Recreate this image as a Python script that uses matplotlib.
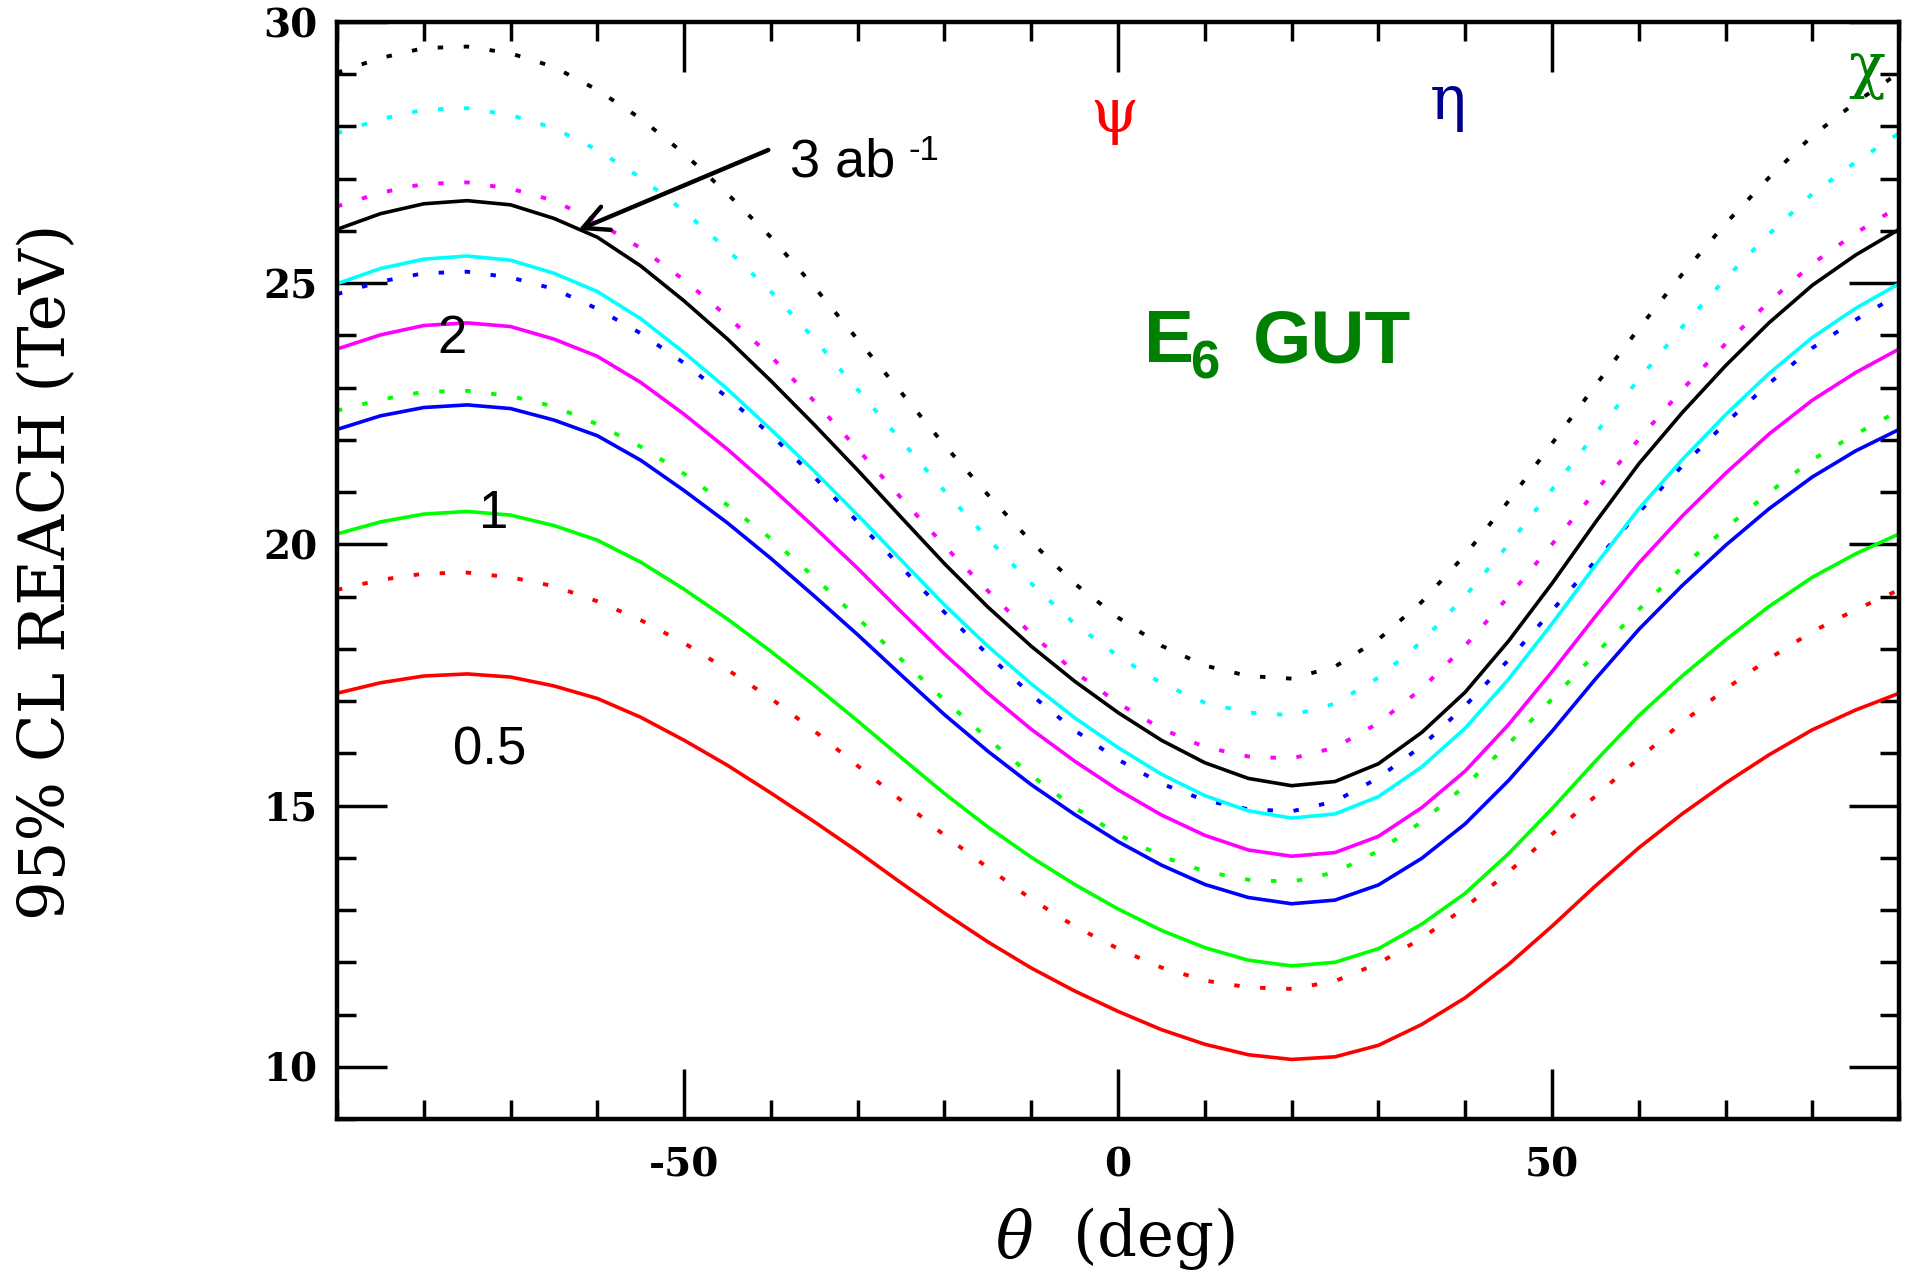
import matplotlib
matplotlib.use('Agg')
import matplotlib.pyplot as plt
from matplotlib.ticker import MultipleLocator

plt.rcParams['axes.unicode_minus'] = False
plt.rcParams['mathtext.fontset'] = 'dejavuserif'

# mixing angle grid (deg)
theta = [-90, -85, -80, -75, -70, -65, -60, -55, -50, -45, -40, -35, -30, -25, -20, -15, -10, -5, 0,
         5, 10, 15, 20, 25, 30, 35, 40, 45, 50, 55, 60, 65, 70, 75, 80, 85, 90]

# 95% CL reach (TeV), solid set
solid_black = [26.03, 26.33, 26.52, 26.58, 26.50, 26.24, 25.88, 25.33, 24.66, 23.93, 23.13, 22.29, 21.42,
               20.52, 19.63, 18.80, 18.05, 17.38, 16.78, 16.25, 15.82, 15.52, 15.38, 15.46, 15.80, 16.40,
               17.17, 18.15, 19.25, 20.42, 21.54, 22.52, 23.42, 24.24, 24.96, 25.54, 26.03]
solid_cyan = [24.99, 25.28, 25.46, 25.52, 25.44, 25.19, 24.84, 24.32, 23.67, 22.97, 22.20, 21.40, 20.56,
              19.70, 18.84, 18.05, 17.33, 16.68, 16.11, 15.60, 15.19, 14.90, 14.76, 14.84, 15.17, 15.74,
              16.48, 17.42, 18.48, 19.60, 20.68, 21.62, 22.48, 23.27, 23.96, 24.52, 24.99]
solid_magenta = [23.74, 24.01, 24.19, 24.24, 24.17, 23.93, 23.60, 23.10, 22.49, 21.82, 21.09, 20.33, 19.54,
                 18.71, 17.90, 17.15, 16.46, 15.85, 15.30, 14.82, 14.43, 14.15, 14.03, 14.10, 14.41, 14.96,
                 15.66, 16.55, 17.56, 18.62, 19.64, 20.54, 21.36, 22.11, 22.76, 23.29, 23.74]
solid_blue = [22.20, 22.46, 22.62, 22.67, 22.60, 22.38, 22.08, 21.61, 21.03, 20.41, 19.73, 19.01, 18.27,
              17.50, 16.74, 16.04, 15.40, 14.83, 14.31, 13.86, 13.49, 13.24, 13.12, 13.19, 13.48, 13.99,
              14.65, 15.48, 16.42, 17.42, 18.37, 19.21, 19.98, 20.68, 21.29, 21.79, 22.20]
solid_green = [20.20, 20.43, 20.58, 20.63, 20.56, 20.36, 20.08, 19.66, 19.14, 18.57, 17.95, 17.30, 16.62,
               15.92, 15.23, 14.59, 14.01, 13.49, 13.02, 12.61, 12.28, 12.04, 11.93, 12.00, 12.26, 12.73,
               13.32, 14.08, 14.94, 15.85, 16.72, 17.48, 18.17, 18.81, 19.37, 19.82, 20.20]
solid_red = [17.15, 17.35, 17.48, 17.52, 17.46, 17.29, 17.05, 16.69, 16.25, 15.77, 15.24, 14.69, 14.12,
             13.52, 12.94, 12.39, 11.89, 11.45, 11.06, 10.71, 10.43, 10.23, 10.14, 10.19, 10.41, 10.81,
             11.32, 11.96, 12.69, 13.46, 14.19, 14.84, 15.43, 15.97, 16.45, 16.83, 17.15]

# dotted set
dot_black = [29.03, 29.31, 29.50, 29.53, 29.40, 29.14, 28.70, 28.15, 27.48, 26.71, 25.88, 24.93, 23.92,
             22.91, 21.90, 20.95, 20.05, 19.25, 18.60, 18.06, 17.68, 17.48, 17.43, 17.66, 18.18, 18.90,
             19.80, 20.83, 21.93, 23.04, 24.13, 25.17, 26.14, 27.02, 27.82, 28.46, 29.03]
dot_cyan = [27.87, 28.14, 28.32, 28.35, 28.22, 27.97, 27.55, 27.02, 26.38, 25.64, 24.84, 23.93, 22.96,
            21.99, 21.02, 20.11, 19.25, 18.48, 17.86, 17.34, 16.97, 16.78, 16.73, 16.95, 17.45, 18.14,
            19.01, 20.00, 21.05, 22.12, 23.16, 24.16, 25.09, 25.94, 26.71, 27.32, 27.87]
dot_magenta = [26.47, 26.73, 26.90, 26.93, 26.81, 26.58, 26.17, 25.67, 25.06, 24.36, 23.60, 22.74, 21.82,
               20.89, 19.97, 19.11, 18.29, 17.56, 16.96, 16.47, 16.12, 15.94, 15.90, 16.11, 16.58, 17.24,
               18.06, 19.00, 20.00, 21.01, 22.01, 22.96, 23.84, 24.64, 25.37, 25.96, 26.47]
dot_blue = [24.79, 25.03, 25.19, 25.22, 25.11, 24.89, 24.51, 24.04, 23.47, 22.81, 22.10, 21.29, 20.43,
            19.57, 18.70, 17.89, 17.12, 16.44, 15.88, 15.42, 15.10, 14.93, 14.89, 15.08, 15.53, 16.14,
            16.91, 17.79, 18.73, 19.68, 20.61, 21.50, 22.32, 23.08, 23.76, 24.30, 24.79]
dot_green = [22.56, 22.77, 22.92, 22.94, 22.84, 22.64, 22.30, 21.87, 21.35, 20.75, 20.11, 19.37, 18.59,
             17.80, 17.02, 16.28, 15.58, 14.96, 14.45, 14.03, 13.74, 13.58, 13.54, 13.72, 14.13, 14.69,
             15.38, 16.18, 17.04, 17.90, 18.75, 19.56, 20.31, 20.99, 21.62, 22.11, 22.56]
dot_red = [19.13, 19.32, 19.44, 19.46, 19.37, 19.20, 18.91, 18.55, 18.11, 17.60, 17.05, 16.43, 15.76,
           15.10, 14.43, 13.81, 13.21, 12.69, 12.26, 11.90, 11.65, 11.52, 11.49, 11.64, 11.98, 12.46,
           13.05, 13.73, 14.45, 15.18, 15.90, 16.59, 17.23, 17.81, 18.33, 18.75, 19.13]

solid_curves = [(solid_black, 'black'), (solid_cyan, 'cyan'), (solid_magenta, 'magenta'),
                (solid_blue, 'blue'), (solid_green, '#00ff00'), (solid_red, 'red')]
dot_curves = [(dot_black, 'black'), (dot_cyan, 'cyan'), (dot_magenta, 'magenta'),
              (dot_blue, 'blue'), (dot_green, '#00ff00'), (dot_red, 'red')]

fig = plt.figure(figsize=(19.05, 12.72), dpi=100)
ax = fig.add_axes([0.1769, 0.1203, 0.8200, 0.8624])

for vals, col in dot_curves:
    ax.plot(theta, vals, color=col, lw=2.8, linestyle=(0, (1.4, 5.3)))
for vals, col in solid_curves:
    ax.plot(theta, vals, color=col, lw=2.6)

ax.set_xlim(-90, 90)
ax.set_ylim(9, 30)
ax.xaxis.set_major_locator(MultipleLocator(50))
ax.xaxis.set_minor_locator(MultipleLocator(10))
ax.yaxis.set_major_locator(MultipleLocator(5))
ax.yaxis.set_minor_locator(MultipleLocator(1))
ax.tick_params(which='major', direction='in', length=36, width=2.5, top=True, right=True)
ax.tick_params(which='minor', direction='in', length=14, width=2.5, top=True, right=True)
ax.tick_params(axis='x', which='major', pad=20)
ax.tick_params(axis='y', which='major', pad=14)
for sp in ax.spines.values():
    sp.set_linewidth(3.2)
for lab in ax.get_xticklabels() + ax.get_yticklabels():
    lab.set_fontfamily('DejaVu Serif')
    lab.set_fontweight('bold')
    lab.set_fontsize(28)

ax.set_xlabel(r'$\theta$  (deg)', fontsize=45, family='DejaVu Serif', va='center')
ax.xaxis.set_label_coords(0.498, -0.109)
ax.set_ylabel('95% CL REACH (TeV)', fontsize=45, family='DejaVu Serif', va='center')
ax.yaxis.set_label_coords(-0.185, 0.4986)

# luminosity labels
sans = 'Liberation Sans'
ax.annotate('', xy=(-62.2, 26.02), xytext=(-40.3, 27.55),
            arrowprops=dict(arrowstyle='->,head_length=0.9,head_width=0.45', lw=3.2,
                            color='black', mutation_scale=20, shrinkA=0, shrinkB=0))
ax.text(-37.8, 27.04, '3 ab', fontsize=39, family=sans, va='baseline')
ax.text(-24.2, 27.36, '-1', fontsize=25, family=sans, va='baseline')
ax.text(-76.8, 23.93, '2', fontsize=38, family=sans, ha='center', va='center')
ax.text(-71.9, 20.59, '1', fontsize=38, family=sans, ha='center', va='center')
ax.text(-72.4, 16.05, '0.5', fontsize=38, family=sans, ha='center', va='center')

# model name and special points
gut_green = '#008000'
ax.text(2.95, 23.49, 'E', fontsize=54, family=sans, weight='bold', color=gut_green, va='baseline')
ax.text(8.3, 23.18, '6', fontsize=38, family=sans, weight='bold', color=gut_green, va='baseline')
ax.text(15.55, 23.49, 'GUT', fontsize=54, family=sans, weight='bold', color=gut_green, va='baseline')
ax.text(-0.5, 28.22, 'ψ', fontsize=44, family='DejaVu Serif', color='red',
        ha='center', va='center')
ax.text(38.0, 28.47, 'η', fontsize=44, family='DejaVu Serif', color='#00008c',
        ha='center', va='center')
ax.text(86.3, 29.08, 'χ', fontsize=44, family='DejaVu Serif', color=gut_green,
        ha='center', va='center')

fig.savefig('out.png', dpi=100)
